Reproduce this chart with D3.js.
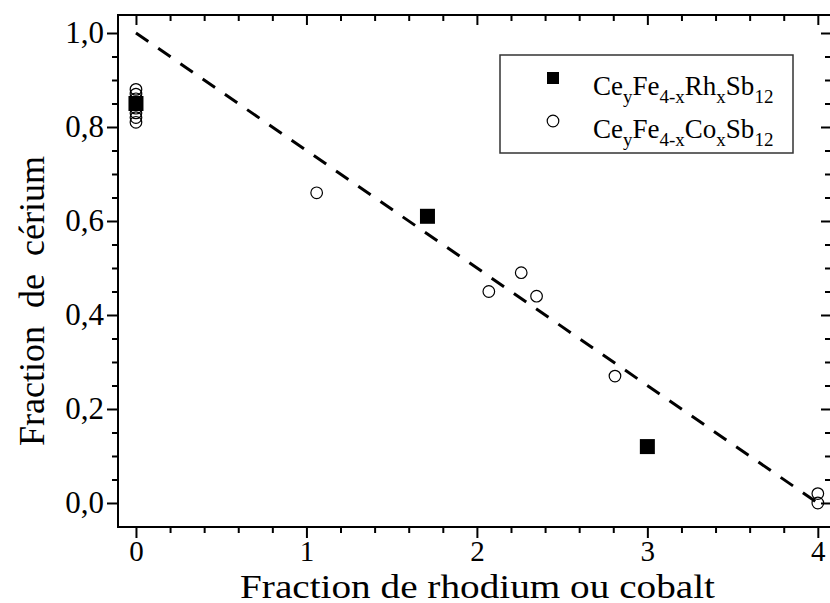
<!DOCTYPE html>
<html><head><meta charset="utf-8">
<script src="https://cdnjs.cloudflare.com/ajax/libs/d3/7.8.5/d3.min.js"></script>
<style>body{margin:0;background:#fff}svg{display:block} svg text{font-family:"Liberation Serif","Times New Roman",Times,"Nimbus Roman","Tinos",serif !important}</style>
</head><body>
<svg id="c" width="830" height="603"></svg>
<script>
// ---- data ----
const rhX = [0, 1.71, 3.0];
const rhY = [0.85, 0.61, 0.12];
const coX = [0, 0, 0, 0, 0, 0, 0, 1.06, 2.07, 2.26, 2.35, 2.81, 4.0, 4.0];
const coY = [0.81, 0.82, 0.83, 0.84, 0.86, 0.87, 0.88, 0.66, 0.45, 0.49, 0.44, 0.27, 0.0, 0.02];
const fitX = [0, 4];
const fitY = [1.0, 0.0];
const xMajor = [0, 1, 2, 3, 4];
const xTickLabels = ["0", "1", "2", "3", "4"];
const xMinor = [0.2,0.4,0.6,0.8,1.2,1.4,1.6,1.8,2.2,2.4,2.6,2.8,3.2,3.4,3.6,3.8];
const yMajor = [0, 0.2, 0.4, 0.6, 0.8, 1.0];
const yTickLabels = ["0,0", "0,2", "0,4", "0,6", "0,8", "1,0"];
const yMinor = [0.05,0.1,0.15,0.25,0.3,0.35,0.45,0.5,0.55,0.65,0.7,0.75,0.85,0.9,0.95];
const xTitle = "Fraction de rhodium ou cobalt";
const yTitle = "Fraction\u00a0 de\u00a0 cérium";
const legendRows = [
  {marker: "square", parts: [["Ce",0],["y",1],["Fe",0],["4-x",1],["Rh",0],["x",1],["Sb",0],["12",1]]},
  {marker: "circle", parts: [["Ce",0],["y",1],["Fe",0],["4-x",1],["Co",0],["x",1],["Sb",0],["12",1]]}
];

// ---- layout ----
const L = 118, T = 15, R = 831, B = 527;
const svg = d3.select("#c");
const x = d3.scaleLinear().domain([-0.1054, 4.0773]).range([L, R]);
const y = d3.scaleLinear().domain([-0.0511, 1.0383]).range([B, T]);

function styleAxis(g){ g.select(".domain").remove(); g.selectAll("line").attr("stroke","#000").attr("stroke-width",2); }

// bottom
svg.append("g").attr("transform",`translate(0,${B})`)
  .call(d3.axisBottom(x).tickValues(xMajor).tickSize(11).tickPadding(2).tickFormat((d,i)=>xTickLabels[i]))
  .call(styleAxis).call(g=>g.selectAll("text").attr("font-size",29).attr("fill","#000"));
svg.append("g").attr("transform",`translate(0,${B})`)
  .call(d3.axisBottom(x).tickValues(xMinor).tickSize(6).tickFormat(""))
  .call(styleAxis);
// top (inward)
svg.append("g").attr("transform",`translate(0,${T})`)
  .call(d3.axisBottom(x).tickValues(xMajor).tickSize(10).tickFormat(""))
  .call(styleAxis);
svg.append("g").attr("transform",`translate(0,${T})`)
  .call(d3.axisBottom(x).tickValues(xMinor).tickSize(6).tickFormat(""))
  .call(styleAxis);
// left
svg.append("g").attr("transform",`translate(${L},0)`)
  .call(d3.axisLeft(y).tickValues(yMajor).tickSize(11).tickPadding(3).tickFormat((d,i)=>yTickLabels[i]))
  .call(styleAxis).call(g=>g.selectAll("text").attr("font-size",31).attr("fill","#000"));
svg.append("g").attr("transform",`translate(${L},0)`)
  .call(d3.axisLeft(y).tickValues(yMinor).tickSize(6).tickFormat(""))
  .call(styleAxis);
// right (inward)
svg.append("g").attr("transform",`translate(${R},0)`)
  .call(d3.axisLeft(y).tickValues(yMajor).tickSize(10).tickFormat(""))
  .call(styleAxis);
svg.append("g").attr("transform",`translate(${R},0)`)
  .call(d3.axisLeft(y).tickValues(yMinor).tickSize(6).tickFormat(""))
  .call(styleAxis);

// frame
svg.append("rect").attr("x",L).attr("y",T).attr("width",R-L).attr("height",B-T)
  .attr("fill","none").attr("stroke","#000").attr("stroke-width",2);

// fit line
svg.append("path").datum(fitX.map((d,i)=>[d,fitY[i]]))
  .attr("d", d3.line().x(d=>x(d[0])).y(d=>y(d[1])))
  .attr("fill","none").attr("stroke","#000").attr("stroke-width",3).attr("stroke-dasharray","15,12");

// squares
const sq = 15;
svg.append("g").selectAll("rect").data(rhX.map((d,i)=>[d,rhY[i]])).join("rect")
  .attr("x",d=>x(d[0])-sq/2).attr("y",d=>y(d[1])-sq/2).attr("width",sq).attr("height",sq).attr("fill","#000");
// circles
svg.append("g").selectAll("circle").data(coX.map((d,i)=>[d,coY[i]])).join("circle")
  .attr("cx",d=>x(d[0])).attr("cy",d=>y(d[1])).attr("r",5.8)
  .attr("fill","none").attr("stroke","#000").attr("stroke-width",1.2);

// axis titles
svg.append("text").attr("x",(L+R)/2 + 3).attr("y",598).attr("text-anchor","middle")
  .attr("font-size",34).attr("textLength",475).attr("lengthAdjust","spacingAndGlyphs").text(xTitle);
svg.append("text").attr("transform",`translate(44,${(T+B)/2 + 30}) rotate(-90)`).attr("text-anchor","middle")
  .attr("font-size",36).text(yTitle);

// legend
const lg = svg.append("g");
lg.append("rect").attr("x",500).attr("y",55).attr("width",293).attr("height",98)
  .attr("fill","#fff").attr("stroke","#333").attr("stroke-width",1.5);
legendRows.forEach((row,i)=>{
  const cy = 78 + i*43;
  if(row.marker==="square"){
    lg.append("rect").attr("x",553-6).attr("y",cy-6).attr("width",12).attr("height",12).attr("fill","#000");
  } else {
    lg.append("circle").attr("cx",553).attr("cy",cy).attr("r",5.8).attr("fill","none").attr("stroke","#000").attr("stroke-width",1.2);
  }
  const t = lg.append("text").attr("x",593).attr("y",cy+17).attr("font-size",27);
  row.parts.forEach(([s,sub])=>{
    t.append("tspan").attr("font-size", sub?19:27)
      .attr("baseline-shift", sub? "-8": null).text(s);
  });
});
</script>
</body></html>
